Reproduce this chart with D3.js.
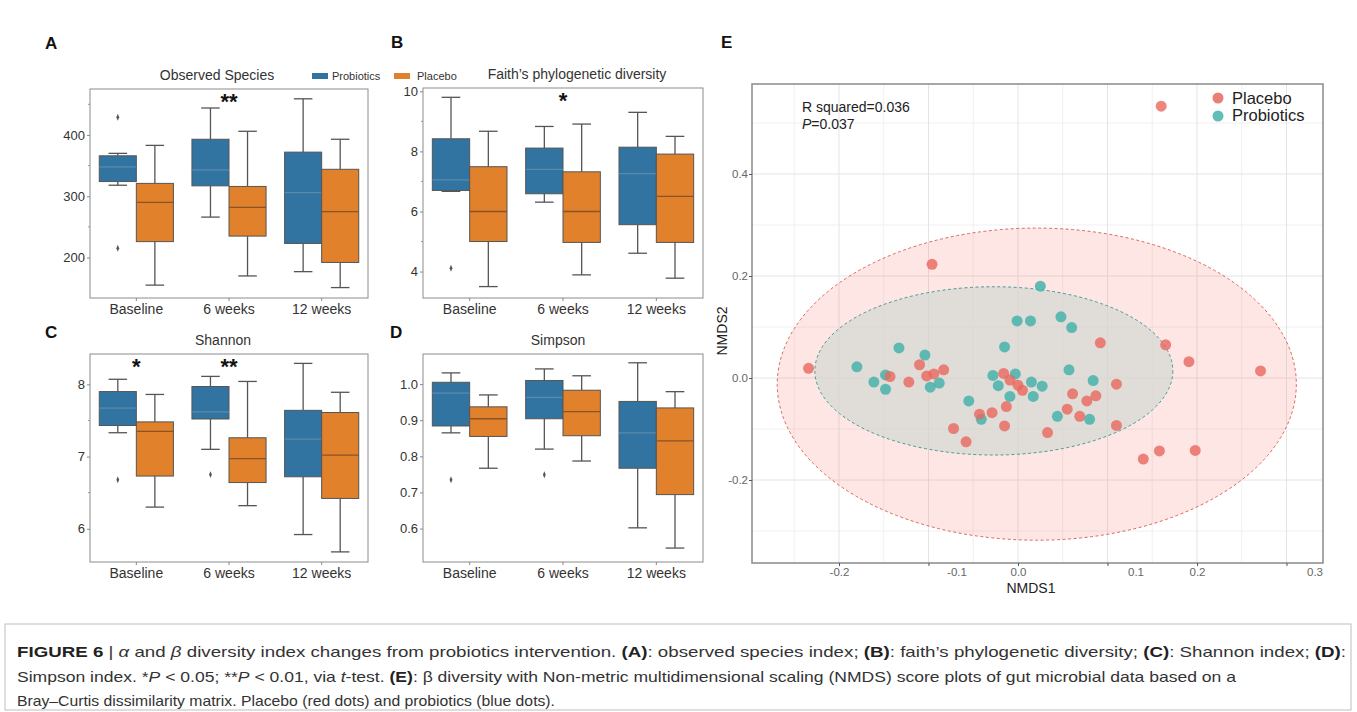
<!DOCTYPE html>
<html><head><meta charset="utf-8">
<script src="https://cdn.jsdelivr.net/npm/d3@7"></script>
<style>body{margin:0;background:#fff}svg{display:block}</style>
</head><body>
<script>
// ---------------- DATA ----------------
const categories = ["Baseline", "6 weeks", "12 weeks"];
const groups = ["Probiotics", "Placebo"];

// box stats per category: [whiskerLow, Q1, median, Q3, whiskerHigh]
const observedProbiotics = [[318,324,348,366,370],[266,317,343,393,444],[177,223,306,372,459]];
const observedPlacebo    = [[155,226,290,321,383],[170,235,282,316,406],[151,192,275,344,393]];
const observedOutliersProbiotics = [[429,215],[],[]];
const observedSig = ["", "**", ""];
const observedTicks = [200,300,400];

const faithProbiotics = [[6.67,6.70,7.05,8.42,9.80],[6.31,6.59,7.40,8.11,8.83],[4.61,5.56,7.26,8.14,9.30]];
const faithPlacebo    = [[3.50,5.00,6.00,7.49,8.67],[3.89,4.97,6.00,7.32,8.91],[3.78,4.97,6.50,7.91,8.50]];
const faithOutliersProbiotics = [[4.11],[],[]];
const faithSig = ["", "*", ""];
const faithTicks = [4,6,8,10];

const shannonProbiotics = [[7.33,7.43,7.67,7.90,8.07],[7.10,7.52,7.62,7.97,8.11],[5.92,6.72,7.24,7.64,8.29]];
const shannonPlacebo    = [[6.30,6.73,7.35,7.48,7.86],[6.32,6.64,6.97,7.26,8.04],[5.68,6.42,7.02,7.61,7.89]];
const shannonOutliersProbiotics = [[6.68],[6.75],[]];
const shannonSig = ["*", "**", ""];
const shannonTicks = [6,7,8];

const simpsonProbiotics = [[0.865,0.884,0.975,1.005,1.031],[0.820,0.904,0.963,1.010,1.042],[0.602,0.767,0.865,0.952,1.059]];
const simpsonPlacebo    = [[0.767,0.855,0.904,0.937,0.970],[0.787,0.857,0.924,0.983,1.023],[0.546,0.694,0.843,0.934,0.979]];
const simpsonOutliersProbiotics = [[0.735],[0.749],[]];
const simpsonSig = ["", "", ""];
const simpsonTicks = [0.6,0.7,0.8,0.9,1.0];

// NMDS scores
const placeboX = [-0.234,-0.110,-0.143,-0.122,-0.102,-0.094,-0.083,-0.072,-0.058,-0.043,-0.029,-0.013,-0.015,-0.016,-0.009,0.000,0.005,-0.096,0.160,0.092,0.165,0.191,0.271,0.110,0.061,0.077,0.087,0.055,0.069,0.110,0.033,0.140,0.158,0.198];
const placeboY = [0.019,0.026,0.003,-0.008,0.004,0.008,0.016,-0.099,-0.125,-0.071,-0.068,-0.056,-0.094,0.009,-0.004,-0.014,-0.024,0.223,0.533,0.069,0.065,0.032,0.014,-0.012,-0.031,-0.045,-0.035,-0.061,-0.075,-0.093,-0.107,-0.159,-0.143,-0.142];
const probioticsX = [-0.180,-0.133,-0.104,-0.148,-0.161,-0.148,-0.098,-0.088,-0.055,-0.041,-0.015,-0.028,-0.022,-0.003,-0.009,-0.001,0.014,0.025,0.048,0.060,0.057,0.084,0.015,0.027,0.017,0.044,0.080];
const probioticsY = [0.022,0.059,0.045,0.006,-0.008,-0.022,-0.018,-0.010,-0.045,-0.081,0.061,0.005,-0.015,0.008,-0.036,0.112,0.112,0.180,0.120,0.099,0.016,-0.005,-0.008,-0.016,-0.036,-0.075,-0.081];
// ellipse: [centerX, centerY, radiusX, radiusY]
const placeboEllipse = [0.021,-0.012,0.290,0.306];
const probioticsEllipse = [-0.027,0.014,0.200,0.165];
const nmdsXTicks = [-0.2,-0.1,0.0,0.1,0.2,0.3];
const nmdsYTicks = [-0.2,0.0,0.2,0.4];

// ---------------- DRAW ----------------
const W = 1357, H = 712;
const F = "'Liberation Sans', Arial, Helvetica, sans-serif";
const svg = d3.select("body").append("svg").attr("width", W).attr("height", H);
const boxColor = {Probiotics: "#3274a1", Placebo: "#e1812c"};
const medColor = {Probiotics: "#5a89ad", Placebo: "#8a5426"};
const LINE = "#555555";

function boxPanel(o) {
  const x = d3.scaleBand().domain(categories).range([o.x0, o.x1]);
  const y = d3.scaleLinear().domain(o.domain).range([o.y1, o.y0]);
  const sub = d3.scaleBand().domain(groups).range([0.1 * x.bandwidth(), 0.9 * x.bandwidth()]);
  const g = svg.append("g");
  g.append("rect").attr("x", o.x0).attr("y", o.y0).attr("width", o.x1 - o.x0).attr("height", o.y1 - o.y0)
    .attr("fill", "none").attr("stroke", "#8c8c8c").attr("stroke-width", 1);
  const ya = g.append("g").attr("transform", `translate(${o.x0},0)`)
    .call(d3.axisLeft(y).tickValues(o.ticks).tickSize(3).tickPadding(2).tickFormat(o.fmt));
  ya.select(".domain").remove();
  ya.selectAll("text").attr("font-family", F).attr("font-size", 13).attr("fill", "#333");
  ya.selectAll("line").attr("stroke", "#888");
  g.selectAll(".minor").data(o.minor).join("line")
    .attr("x1", o.x0 - 2).attr("x2", o.x0).attr("y1", d => y(d)).attr("y2", d => y(d)).attr("stroke", "#999");
  const xa = g.append("g").attr("transform", `translate(0,${o.y1})`)
    .call(d3.axisBottom(x).tickSize(3).tickPadding(3));
  xa.select(".domain").remove();
  xa.selectAll("text").attr("font-family", F).attr("font-size", 14).attr("fill", "#333");
  xa.selectAll("line").attr("stroke", "#888");

  groups.forEach(grp => {
    const stats = o.stats[grp];
    categories.forEach((c, i) => {
      const [lo, q1, med, q3, hi] = stats[i];
      const bw = sub.bandwidth();
      const bx = x(c) + sub(grp), cx = bx + bw / 2;
      const ln = (x1, y1, x2, y2) => g.append("line").attr("x1", x1).attr("y1", y1).attr("x2", x2).attr("y2", y2)
        .attr("stroke", LINE).attr("stroke-width", 1.3);
      ln(cx, y(hi), cx, y(q3)); ln(cx, y(q1), cx, y(lo));
      ln(cx - bw / 4, y(hi), cx + bw / 4, y(hi)); ln(cx - bw / 4, y(lo), cx + bw / 4, y(lo));
      g.append("rect").attr("x", bx).attr("y", y(q3)).attr("width", bw).attr("height", y(q1) - y(q3))
        .attr("fill", boxColor[grp]).attr("stroke", LINE).attr("stroke-width", 1);
      g.append("line").attr("x1", bx).attr("x2", bx + bw).attr("y1", y(med)).attr("y2", y(med))
        .attr("stroke", medColor[grp]).attr("stroke-width", 1.3);
      (o.outliers[grp][i] || []).forEach(v => {
        g.append("path").attr("d", d3.symbol(d3.symbolDiamond, 14)())
          .attr("transform", `translate(${cx},${y(v)}) scale(0.7,1)`).attr("fill", "#555");
      });
    });
  });
  categories.forEach((c, i) => {
    if (o.sig[i]) g.append("text").attr("x", x(c) + x.bandwidth() / 2).attr("y", o.y0 + 20)
      .attr("text-anchor", "middle").attr("font-family", F).attr("font-size", 22).attr("font-weight", "bold")
      .attr("fill", "#111").text(o.sig[i]);
  });
  g.append("text").attr("x", o.titleX).attr("y", o.y0 - 9).attr("text-anchor", "middle")
    .attr("font-family", F).attr("font-size", 14).attr("fill", "#333").text(o.title);
  g.append("text").attr("x", o.lx).attr("y", o.ly).attr("font-family", F).attr("font-size", 17)
    .attr("font-weight", "bold").attr("fill", "#111").text(o.letter);
}

const f0 = d3.format("d"), f1 = d => d.toFixed(1);
boxPanel({x0: 90, x1: 368, y0: 89, y1: 298, domain: [134, 475], ticks: observedTicks, minor: [250,350,450], fmt: f0,
  stats: {Probiotics: observedProbiotics, Placebo: observedPlacebo},
  outliers: {Probiotics: observedOutliersProbiotics, Placebo: [[],[],[]]}, sig: observedSig,
  title: "Observed Species", titleX: 217, letter: "A", lx: 45, ly: 49});
boxPanel({x0: 423, x1: 703, y0: 88, y1: 298, domain: [3.12, 10.11], ticks: faithTicks, minor: [5,7,9], fmt: f0,
  stats: {Probiotics: faithProbiotics, Placebo: faithPlacebo},
  outliers: {Probiotics: faithOutliersProbiotics, Placebo: [[],[],[]]}, sig: faithSig,
  title: "Faith\u2019s phylogenetic diversity", titleX: 577, letter: "B", lx: 391, ly: 48});
boxPanel({x0: 90, x1: 368, y0: 354, y1: 562, domain: [5.54, 8.42], ticks: shannonTicks, minor: [6.5,7.5], fmt: f0,
  stats: {Probiotics: shannonProbiotics, Placebo: shannonPlacebo},
  outliers: {Probiotics: shannonOutliersProbiotics, Placebo: [[],[],[]]}, sig: shannonSig,
  title: "Shannon", titleX: 223, letter: "C", lx: 45, ly: 338});
boxPanel({x0: 423, x1: 703, y0: 354, y1: 562, domain: [0.5074, 1.0833], ticks: simpsonTicks, minor: [], fmt: f1,
  stats: {Probiotics: simpsonProbiotics, Placebo: simpsonPlacebo},
  outliers: {Probiotics: simpsonOutliersProbiotics, Placebo: [[],[],[]]}, sig: simpsonSig,
  title: "Simpson", titleX: 558, letter: "D", lx: 390, ly: 338});

// legend for box plots
const bl = svg.append("g");
[[312, "Probiotics", 332], [394, "Placebo", 417]].forEach(([px, name, tx]) => {
  bl.append("rect").attr("x", px).attr("y", 73).attr("width", 16).attr("height", 6).attr("fill", boxColor[name]);
  bl.append("text").attr("x", tx).attr("y", 80).attr("font-family", F).attr("font-size", 11).attr("fill", "#333").text(name);
});

// ---------------- Panel E ----------------
const ex = d3.scaleLinear().domain([-0.2972, 0.3408]).range([752, 1323]);
const ey = d3.scaleLinear().domain([-0.3627, 0.5765]).range([563, 84]);
const e = svg.append("g");
const xMinor = d3.range(-0.25, 0.34, 0.1), yMinor = [-0.3,-0.1,0.1,0.3,0.5];
xMinor.forEach(v => e.append("line").attr("x1", ex(v)).attr("x2", ex(v)).attr("y1", 84).attr("y2", 563).attr("stroke", "#f0f0f0"));
yMinor.forEach(v => e.append("line").attr("y1", ey(v)).attr("y2", ey(v)).attr("x1", 752).attr("x2", 1323).attr("stroke", "#f0f0f0"));
nmdsXTicks.forEach(v => e.append("line").attr("x1", ex(v)).attr("x2", ex(v)).attr("y1", 84).attr("y2", 563).attr("stroke", "#e4e4e4"));
nmdsYTicks.forEach(v => e.append("line").attr("y1", ey(v)).attr("y2", ey(v)).attr("x1", 752).attr("x2", 1323).attr("stroke", "#e4e4e4"));

function ell(p, fill, op, stroke) {
  const cx = ex(p[0]), cy = ey(p[1]);
  e.append("ellipse").attr("cx", cx).attr("cy", cy).attr("rx", ex(p[0] + p[2]) - cx).attr("ry", cy - ey(p[1] + p[3]))
    .attr("fill", fill).attr("fill-opacity", op).attr("stroke", stroke).attr("stroke-width", 1)
    .attr("stroke-dasharray", "3,2.5");
}
ell(placeboEllipse, "#f8766d", 0.18, "#d9665e");
ell(probioticsEllipse, "#d6d8d2", 0.75, "#3f9e9a");

const probPts = probioticsX.map((v, i) => [v, probioticsY[i]]);
const placPts = placeboX.map((v, i) => [v, placeboY[i]]);
e.selectAll(".pr").data(probPts).join("circle").attr("cx", d => ex(d[0])).attr("cy", d => ey(d[1])).attr("r", 5.5)
  .attr("fill", "#45b3ab").attr("fill-opacity", 0.85);
e.selectAll(".pl").data(placPts).join("circle").attr("cx", d => ex(d[0])).attr("cy", d => ey(d[1])).attr("r", 5.5)
  .attr("fill", "#e8685e").attr("fill-opacity", 0.8);

e.append("rect").attr("x", 752).attr("y", 84).attr("width", 571).attr("height", 479).attr("fill", "none")
  .attr("stroke", "#8a8a8a").attr("stroke-width", 1.5);

const exa = e.append("g").attr("transform", "translate(0,563)")
  .call(d3.axisBottom(ex).tickValues(nmdsXTicks).tickSize(3).tickPadding(2).tickFormat(f1));
exa.select(".domain").remove();
exa.selectAll("line").attr("stroke", "#555");
exa.selectAll("text").attr("font-family", F).attr("font-size", 11.5).attr("fill", "#666")
  .attr("dx", d => (Math.round(d * 10) % 2 !== 0 ? 28 : 0));
const eya = e.append("g").attr("transform", "translate(752,0)")
  .call(d3.axisLeft(ey).tickValues(nmdsYTicks).tickSize(3).tickPadding(1).tickFormat(f1));
eya.select(".domain").remove();
eya.selectAll("line").attr("stroke", "#555");
eya.selectAll("text").attr("font-family", F).attr("font-size", 11.5).attr("fill", "#666");

e.append("text").attr("x", 1031).attr("y", 593).attr("text-anchor", "middle").attr("font-family", F)
  .attr("font-size", 14).attr("fill", "#222").text("NMDS1");
e.append("text").attr("transform", "translate(727,331) rotate(-90)").attr("text-anchor", "middle").attr("font-family", F)
  .attr("font-size", 14).attr("fill", "#222").text("NMDS2");
e.append("text").attr("x", 802).attr("y", 112).attr("font-family", F).attr("font-size", 14).attr("fill", "#222").text("R squared=0.036");
const pt = e.append("text").attr("x", 802).attr("y", 129).attr("font-family", F).attr("font-size", 14).attr("fill", "#222");
pt.append("tspan").attr("font-style", "italic").text("P");
pt.append("tspan").text("=0.037");
[["Placebo", "#e8685e", 98, 104], ["Probiotics", "#45b3ab", 116, 121]].forEach(([t, c, cy, ty]) => {
  e.append("circle").attr("cx", 1218).attr("cy", cy).attr("r", 5.5).attr("fill", c).attr("fill-opacity", 0.85);
  e.append("text").attr("x", 1232).attr("y", ty).attr("font-family", F).attr("font-size", 16.5).attr("fill", "#222").text(t);
});
e.append("text").attr("x", 721).attr("y", 48).attr("font-family", F).attr("font-size", 17)
  .attr("font-weight", "bold").attr("fill", "#111").text("E");

// ---------------- Caption ----------------
svg.append("rect").attr("x", 5).attr("y", 624).attr("width", 1346).attr("height", 86)
  .attr("fill", "none").attr("stroke", "#bdbdbd").attr("stroke-width", 1);
const capLines = [
  {y: 657, len: 1329, parts: [["FIGURE 6 ","b"],["| ",""],["\u03b1","i"],[" and ",""],["\u03b2","i"],[" diversity index changes from probiotics intervention. ",""],["(A)","b"],[": observed species index; ",""],["(B)","b"],[": faith\u2019s phylogenetic diversity; ",""],["(C)","b"],[": Shannon index; ",""],["(D)","b"],[":",""]]},
  {y: 682, len: 1219, parts: [["Simpson index. *",""],["P","i"],[" < 0.05; **",""],["P","i"],[" < 0.01, via ",""],["t","i"],["-test. ",""],["(E)","b"],[": \u03b2 diversity with Non-metric multidimensional scaling (NMDS) score plots of gut microbial data based on a",""]]},
  {y: 706, len: 538, parts: [["Bray\u2013Curtis dissimilarity matrix. Placebo (red dots) and probiotics (blue dots).",""]]}
];
capLines.forEach(l => {
  const t = svg.append("text").attr("x", 17).attr("y", l.y).attr("font-family", "'Liberation Sans Narrow', 'Arial Narrow', " + F)
    .attr("font-size", 15).attr("fill", "#333").attr("textLength", l.len).attr("lengthAdjust", "spacingAndGlyphs")
    .style("white-space", "pre");
  l.parts.forEach(([s, st]) => {
    const ts = t.append("tspan").text(s);
    if (st === "b") ts.attr("font-weight", "bold").attr("fill", "#222");
    if (st === "i") ts.attr("font-style", "italic");
  });
});
</script>
</body></html>
